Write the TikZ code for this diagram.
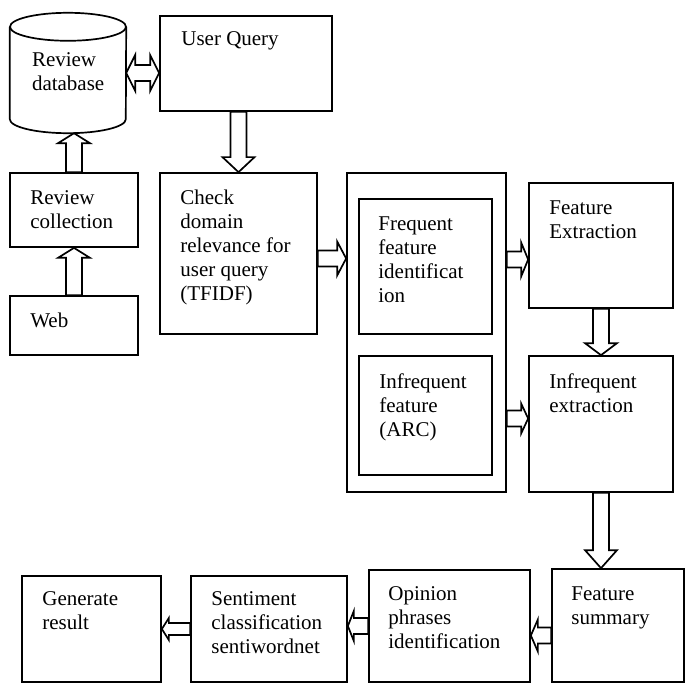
\documentclass[tikz,border=0pt]{standalone}
\usepackage{fontspec}
\setmainfont{Liberation Serif}
\usetikzlibrary{calc}
\tikzset{
    box/.style={draw, line width=1.7pt, inner sep=0pt},
    txt/.style={anchor=north west, inner sep=0pt, align=left, font=\fontsize{21}{24}\selectfont},
    arr/.style={draw, line width=1.7pt, line join=miter}
}
% block arrow: from, to, half shaft, half head, head length
\newcommand\blockarrow[5]{%
  \coordinate (h) at ($(#2)!#5!(#1)$);
  \draw[arr] ($(#1)!#3!90:(#2)$) -- ($(h)!#3!90:(#2)$) -- ($(h)!#4!90:(#2)$) -- (#2)
    -- ($(h)!#4!-90:(#2)$) -- ($(h)!#3!-90:(#2)$) -- ($(#1)!#3!-90:(#2)$) -- cycle;}
\newcommand\dblockarrow[5]{%
  \coordinate (h1) at ($(#1)!#5!(#2)$);
  \coordinate (h2) at ($(#2)!#5!(#1)$);
  \draw[arr] (#1) -- ($(h1)!#4!90:(#2)$) -- ($(h1)!#3!90:(#2)$) -- ($(h2)!#3!90:(#2)$)
    -- ($(h2)!#4!90:(#2)$) -- (#2) -- ($(h2)!#4!-90:(#2)$) -- ($(h2)!#3!-90:(#2)$)
    -- ($(h1)!#3!-90:(#2)$) -- ($(h1)!#4!-90:(#2)$) -- cycle;}

\begin{document}
\begin{tikzpicture}[x=1pt,y=-1pt]
\useasboundingbox (0,0) rectangle (690,684);
% left column
\node[inner sep=0pt, minimum width=116, minimum height=120] (db) at (68,73) {};
\draw[box] ($(db.north west)+(0,14)$) -- ($(db.south west)+(0,-14)$)
    arc[start angle=180, end angle=360, x radius=58pt, y radius=14pt] -- ($(db.north east)+(0,14)$);
\draw[box] ($(db.north)+(0,14)$) ellipse [x radius=58pt, y radius=14pt];
\node[box, minimum width=128, minimum height=74] (coll) at (74,210) {};
\node[box, minimum width=128, minimum height=59] (web) at (74,325.5) {};
% middle
\node[box, minimum width=172, minimum height=95] (q) at (246,63.5) {};
\node[box, minimum width=157, minimum height=161] (chk) at (238.5,253.5) {};
\node[box, minimum width=159, minimum height=319] (big) at (426.5,332.5) {};
\node[box, minimum width=133, minimum height=135] (freq) at (425.5,266.5) {};
\node[box, minimum width=133, minimum height=119] (infreq) at (425.5,415.5) {};
% right
\node[box, minimum width=144, minimum height=125] (fe) at (601,245.5) {};
\node[box, minimum width=144, minimum height=136] (ie) at (601,424) {};
% bottom row
\node[box, minimum width=132, minimum height=113] (fs) at (618,625.5) {};
\node[box, minimum width=161, minimum height=112] (op) at (449.5,626) {};
\node[box, minimum width=156, minimum height=106] (sent) at (269,629) {};
\node[box, minimum width=139, minimum height=106] (gen) at (91.5,629) {};

% texts
\node[txt] (dbt) at ([shift={(22,40)}]db.north west) {Review\\database};
\node[txt] (qt) at ([shift={(22,16)}]q.north west) {User Query};
\node[txt] (collt) at ([shift={(21,18)}]coll.north west) {Review\\collection};
\node[txt] (webt) at ([shift={(21,18)}]web.north west) {Web};
\node[txt] (chkt) at ([shift={(21,18)}]chk.north west) {Check\\domain\\relevance for\\user query\\(TFIDF)};
\node[txt] (freqt) at ([shift={(20,18)}]freq.north west) {Frequent\\feature\\identificat\\ion};
\node[txt] (infreqt) at ([shift={(21,18)}]infreq.north west) {Infrequent\\feature\\(ARC)};
\node[txt] (fet) at ([shift={(21,18)}]fe.north west) {Feature\\Extraction};
\node[txt] (iet) at ([shift={(21,18)}]ie.north west) {Infrequent\\extraction};
\node[txt] (fst) at ([shift={(20,18)}]fs.north west) {Feature\\summary};
\node[txt] (opt) at ([shift={(20,17)}]op.north west) {Opinion\\phrases\\identification};
\node[txt] (sentt) at ([shift={(21,16)}]sent.north west) {Sentiment\\classification\\sentiwordnet};
\node[txt] (gent) at ([shift={(21,16)}]gen.north west) {Generate\\result};

% arrows
\coordinate (c1) at (coll.north |- db.south);
\blockarrow{coll.north}{c1}{8pt}{16pt}{10pt}
\blockarrow{web.north}{coll.south}{8pt}{16pt}{10pt}
\coordinate (c2) at (q.west |- db.east);
\dblockarrow{db.east}{c2}{8pt}{18pt}{9pt}
\coordinate (c3) at (q.south -| chk.north);
\blockarrow{c3}{chk.north}{8pt}{16pt}{15pt}
\coordinate (c4) at ($(chk.east)+(0,5)$);
\coordinate (c5) at (c4 -| big.west);
\blockarrow{c4}{c5}{8pt}{17pt}{9pt}
\coordinate (c6) at ($(big.east |- freq.east)+(0,-7)$);
\coordinate (c7) at (c6 -| fe.west);
\blockarrow{c6}{c7}{8pt}{17pt}{7pt}
\coordinate (c8) at ($(big.east |- infreq.east)+(0,3)$);
\coordinate (c9) at (c8 -| ie.west);
\blockarrow{c8}{c9}{8pt}{15pt}{7pt}
\blockarrow{fe.south}{ie.north}{8pt}{16pt}{12pt}
\coordinate (c10) at (ie.south |- fs.north);
\blockarrow{ie.south}{c10}{8pt}{16pt}{18pt}
\coordinate (c11) at ($(fs.west)+(0,10)$);
\coordinate (c12) at (c11 -| op.east);
\blockarrow{c11}{c12}{8pt}{16pt}{7pt}
\coordinate (c13) at (op.west -| sent.east);
\blockarrow{op.west}{c13}{8pt}{15pt}{6pt}
\coordinate (c14) at (sent.west -| gen.east);
\blockarrow{sent.west}{c14}{6pt}{11pt}{7pt}
\end{tikzpicture}
\end{document}
